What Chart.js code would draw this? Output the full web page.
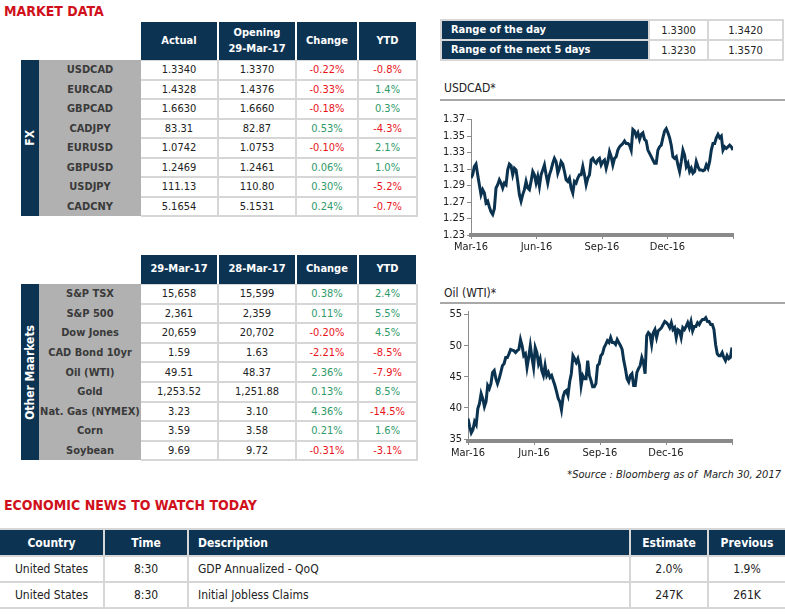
<!DOCTYPE html>
<html lang="en">
<head>
<meta charset="UTF-8">
<title>Market Data</title>
<script src="https://cdn.jsdelivr.net/npm/chart.js"></script>
<style>
  body { margin:0; width:785px; height:614px; position:relative; overflow:hidden; background:#fff;
         font-family:'DejaVu Sans Condensed','DejaVu Sans',sans-serif; font-size:11px; color:#222; }
  .abs { position:absolute; box-sizing:border-box; }
  .title { color:#d0101b; font-weight:bold; font-size:14px; white-space:nowrap; }
  .hd { background:#0d3352; color:#fff; font-weight:bold; display:flex; align-items:center; justify-content:center; text-align:center; line-height:1.5; }
  .cell { background:#fff; display:flex; align-items:center; justify-content:center; white-space:nowrap; }
  .lbl { display:flex; align-items:center; justify-content:center; font-weight:bold; color:#3a3a3a; white-space:nowrap; }
  .strip { background:#0d3352; color:#fff; font-weight:bold; font-size:12px; display:flex; align-items:center; justify-content:center; }
  .strip span { writing-mode:vertical-rl; transform:rotate(180deg); white-space:nowrap; }
  .grey { background:#b1b1b1; }
  .grid { background:#d6d6d6; }
  .neg { color:#e8141c; }
  .pos { color:#2f9a6a; }
  .chead { font-size:12px; color:#222; }
  .rule { background:#a8a8a8; }
  .news { font-size:12px; }
</style>
</head>
<body>

<script>
// FX table
const fxNames = ['USDCAD', 'EURCAD', 'GBPCAD', 'CADJPY', 'EURUSD', 'GBPUSD', 'USDJPY', 'CADCNY'];
const fxActual = ['1.3340', '1.4328', '1.6630', '83.31', '1.0742', '1.2469', '111.13', '5.1654'];
const fxOpening = ['1.3370', '1.4376', '1.6660', '82.87', '1.0753', '1.2461', '110.80', '5.1531'];
const fxChange = ['-0.22%', '-0.33%', '-0.18%', '0.53%', '-0.10%', '0.06%', '0.30%', '0.24%'];
const fxYtd = ['-0.8%', '1.4%', '0.3%', '-4.3%', '2.1%', '1.0%', '-5.2%', '-0.7%'];

// other markets table
const mkNames = ['S&P TSX', 'S&P 500', 'Dow Jones', 'CAD Bond 10yr', 'Oil (WTI)', 'Gold', 'Nat. Gas (NYMEX)', 'Corn', 'Soybean'];
const mkToday = ['15,658', '2,361', '20,659', '1.59', '49.51', '1,253.52', '3.23', '3.59', '9.69'];
const mkPrev = ['15,599', '2,359', '20,702', '1.63', '48.37', '1,251.88', '3.10', '3.58', '9.72'];
const mkChange = ['0.38%', '0.11%', '-0.20%', '-2.21%', '2.36%', '0.13%', '4.36%', '0.21%', '-0.31%'];
const mkYtd = ['2.4%', '5.5%', '4.5%', '-8.5%', '-7.9%', '8.5%', '-14.5%', '1.6%', '-3.1%'];

// ranges
const rangeNames = ['Range of the day', 'Range of the next 5 days'];
const rangeLow = ['1.3300', '1.3230'];
const rangeHigh = ['1.3420', '1.3570'];

// economic news
const newsHeads = ['Country', 'Time', 'Description', 'Estimate', 'Previous'];
const newsCountry = ['United States', 'United States'];
const newsTime = ['8:30', '8:30'];
const newsDesc = ['GDP Annualized - QoQ', 'Initial Jobless Claims'];
const newsEstimate = ['2.0%', '247K'];
const newsPrevious = ['1.9%', '261K'];

// chart series (Mar-16 .. Mar-17)
const quarterLabels = ['Mar-16', 'Jun-16', 'Sep-16', 'Dec-16', ''];
const oilTicks = [35, 40, 45, 50, 55];
const usdcadVals = [1.299,1.303,1.313,1.316,1.303,1.291,1.279,1.285,1.281,1.269,1.271,1.264,1.258,1.255,1.262,1.287,
  1.291,1.297,1.293,1.287,1.293,1.291,1.309,1.316,1.314,1.303,1.311,1.309,1.295,1.279,1.271,1.279,1.285,1.295,1.287,
  1.285,1.295,1.307,1.303,1.293,1.301,1.289,1.303,1.309,1.315,1.303,1.293,1.303,1.309,1.317,1.323,1.319,1.305,1.311,
  1.319,1.316,1.307,1.297,1.295,1.299,1.287,1.281,1.295,1.293,1.299,1.303,1.303,1.313,1.303,1.291,1.299,1.303,1.321,
  1.323,1.319,1.317,1.321,1.323,1.315,1.319,1.321,1.311,1.319,1.331,1.325,1.315,1.323,1.325,1.333,1.337,1.339,1.341,
  1.344,1.341,1.341,1.339,1.333,1.358,1.356,1.350,1.354,1.346,1.352,1.354,1.346,1.344,1.333,1.329,1.325,1.321,1.317,
  1.317,1.333,1.337,1.339,1.348,1.356,1.359,1.354,1.348,1.339,1.325,1.323,1.325,1.315,1.307,1.319,1.333,1.327,1.313,
  1.317,1.307,1.311,1.305,1.307,1.319,1.313,1.309,1.309,1.308,1.309,1.315,1.311,1.319,1.333,1.341,1.341,1.348,1.352,
  1.348,1.350,1.333,1.337,1.335,1.337,1.339,1.337,1.333];
const oilVals = [38.3,37.0,36.0,36.5,37.8,37.3,39.9,40.7,42.3,41.5,40.2,41.0,43.6,43.1,43.9,45.7,46.0,44.7,43.9,44.7,
  45.7,46.8,47.1,48.1,48.1,48.7,49.4,49.3,49.2,48.9,49.2,49.4,51.0,50.0,48.4,48.7,46.5,48.1,50.0,48.1,46.5,49.7,48.9,
  47.1,47.9,46.0,45.2,46.8,45.2,45.7,44.9,45.2,44.4,43.6,42.6,41.5,41.0,39.7,41.8,42.6,42.8,42.0,44.2,45.5,48.4,47.9,
  47.3,47.9,46.8,43.6,45.2,44.7,44.7,47.6,45.2,44.4,43.4,43.4,43.9,46.8,47.1,48.4,48.7,49.7,50.2,50.8,50.5,51.3,50.5,
  50.5,50.2,51.0,50.5,50.0,49.4,47.6,46.3,44.7,44.2,45.2,45.5,43.6,43.6,45.7,46.3,46.8,48.1,47.3,45.5,51.6,52.1,51.8,
  50.2,52.1,52.6,51.3,52.4,52.6,52.9,53.4,53.9,53.7,53.4,52.9,53.7,52.6,52.9,51.3,52.6,52.4,51.3,52.9,52.6,53.1,53.7,
  52.9,53.9,52.4,53.1,53.1,53.7,53.4,53.9,54.2,54.2,54.5,53.9,53.9,53.4,53.4,52.6,50.2,48.7,48.4,48.4,48.9,48.1,47.6,
  48.4,47.9,48.1,49.7];

const FONT = "'DejaVu Sans Condensed','DejaVu Sans',sans-serif";
const tickFont = { family: FONT, size: 11 };

function box(cls, x, y, w, h, html) {
  const d = document.createElement('div');
  d.className = 'abs ' + cls;
  d.style.left = x + 'px';
  d.style.top = y + 'px';
  d.style.width = w + 'px';
  d.style.height = h + 'px';
  if (html !== undefined) d.innerHTML = html;
  document.body.appendChild(d);
  return d;
}
function sign(v) { return v.trim().charAt(0) === '-' ? 'neg' : 'pos'; }

// columns of both market tables: [x, width]
const cols = [[141, 76], [219, 76], [297, 60], [359, 57]];

function marketTable(headTop, headH, heads, top, rowH, stripText, names, a, b, chg, ytd) {
  heads.forEach((t, i) => box('hd', cols[i][0], headTop, cols[i][1], headH, t));
  const h = names.length * rowH;
  box('strip', 21, top, 18, h, '<span>' + stripText + '</span>');
  box('grey', 39, top, 102, h);
  box('grid', 141, top, 277, h + 1);
  names.forEach((n, i) => {
    const y = top + i * rowH;
    box('lbl', 39, y, 102, rowH, n.replace('&', '&amp;'));
    box('cell', cols[0][0], y + 1, cols[0][1], rowH - 2, a[i]);
    box('cell', cols[1][0], y + 1, cols[1][1], rowH - 2, b[i]);
    box('cell ' + sign(chg[i]), cols[2][0], y + 1, cols[2][1], rowH - 2, chg[i]);
    box('cell ' + sign(ytd[i]), cols[3][0], y + 1, cols[3][1], rowH - 2, ytd[i]);
  });
}

box('title', 4, 3, 200, 18, 'MARKET DATA');
marketTable(22, 38, ['Actual', 'Opening<br>29-Mar-17', 'Change', 'YTD'], 60, 19.5, 'FX',
  fxNames, fxActual, fxOpening, fxChange, fxYtd);
marketTable(255, 29, ['29-Mar-17', '28-Mar-17', 'Change', 'YTD'], 284, 19.6, 'Other Maarkets',
  mkNames, mkToday, mkPrev, mkChange, mkYtd);

// range table
box('grid', 440, 19, 344, 42);
rangeNames.forEach((n, i) => {
  const y = 21 + i * 20;
  const d = box('hd', 442, y, 206, 18, n);
  d.style.justifyContent = 'flex-start';
  d.style.paddingLeft = '9px';
  box('cell', 650, y, 57, 18, rangeLow[i]);
  box('cell', 709, y, 73, 18, rangeHigh[i]);
});

// chart headings
box('chead', 444, 81, 200, 16, 'USDCAD*');
box('rule', 440, 99, 345, 2);
box('chead', 444, 286, 200, 16, 'Oil (WTI)*');
box('rule', 440, 302, 345, 2);
const src = box('', 480, 468, 301, 15, '*Source : Bloomberg as of&nbsp; March 30, 2017');
src.style.textAlign = 'right';
src.style.fontStyle = 'italic';
src.style.whiteSpace = 'nowrap';

// economic news
box('title', 4, 497, 300, 18, 'ECONOMIC NEWS TO WATCH TODAY');
const newsCols = [[0, 103], [105, 82], [189, 440], [631, 76], [709, 76]];
box('grid', 0, 528, 785, 81);
newsHeads.forEach((t, i) => {
  const c = box('hd news', newsCols[i][0], 530, newsCols[i][1], 25, t);
  if (i === 2) { c.style.justifyContent = 'flex-start'; c.style.paddingLeft = '9px'; }
});
newsCountry.forEach((c, i) => {
  const y = 557 + i * 26;
  const vals = [c, newsTime[i], newsDesc[i], newsEstimate[i], newsPrevious[i]];
  vals.forEach((v, j) => {
    const d = box('cell news', newsCols[j][0], y, newsCols[j][1], 24, v);
    if (j === 2) { d.style.justifyContent = 'flex-start'; d.style.paddingLeft = '9px'; }
  });
});

// charts
function toPoints(vals) {
  return vals.map((v, i) => ({ x: i * 12 / (vals.length - 1), y: v }));
}

function lineChart(x, y, h, vals, yScale, padRight) {
  const canvas = document.createElement('canvas');
  canvas.width = 345;
  canvas.height = h;
  canvas.style.position = 'absolute';
  canvas.style.left = x + 'px';
  canvas.style.top = y + 'px';
  document.body.appendChild(canvas);
  return new Chart(canvas, {
    type: 'line',
    data: {
      datasets: [{
        data: toPoints(vals),
        borderColor: '#0b3350',
        borderWidth: 3,
        pointRadius: 0,
        tension: 0,
        fill: false
      }]
    },
    options: {
      responsive: false,
      animation: false,
      events: [],
      layout: { padding: { top: 5, right: padRight, left: 0, bottom: 0 } },
      plugins: { legend: { display: false }, tooltip: { enabled: false } },
      scales: {
        x: {
          type: 'linear', min: 0, max: 12,
          afterBuildTicks: s => { s.ticks = [0, 3, 6, 9, 12].map(v => ({ value: v })); },
          afterFit: s => { s.height = 22; },
          ticks: { callback: (v, i) => quarterLabels[i], autoSkip: false, maxRotation: 0, padding: 2,
                   color: '#222', font: tickFont },
          grid: { drawOnChartArea: false, tickLength: 4, color: '#8a8a8a' },
          border: { color: '#8a8a8a', width: 4 }
        },
        y: Object.assign({
          grid: { drawOnChartArea: false, tickLength: 4, color: '#8a8a8a' },
          border: { color: '#8a8a8a', width: 1 }
        }, yScale)
      }
    }
  });
}

// USDCAD: ticks every 0.02 from 1.23 to 1.37
lineChart(440, 111, 146, usdcadVals, {
  min: 1.23, max: 1.37,
  afterFit: s => { s.width = 31; },
  ticks: { stepSize: 0.02, callback: v => v.toFixed(2), autoSkip: false, padding: 2, color: '#222', font: tickFont }
}, 52);

// Oil (WTI): ticks every 5
lineChart(440, 303, 160, oilVals, {
  min: 34.68, max: 55.48,
  afterBuildTicks: s => { s.ticks = oilTicks.map(v => ({ value: v })); },
  afterFit: s => { s.width = 28; },
  ticks: { callback: v => v.toFixed(0), autoSkip: false, padding: 2, color: '#222', font: tickFont }
}, 53);
</script>
</body>
</html>
